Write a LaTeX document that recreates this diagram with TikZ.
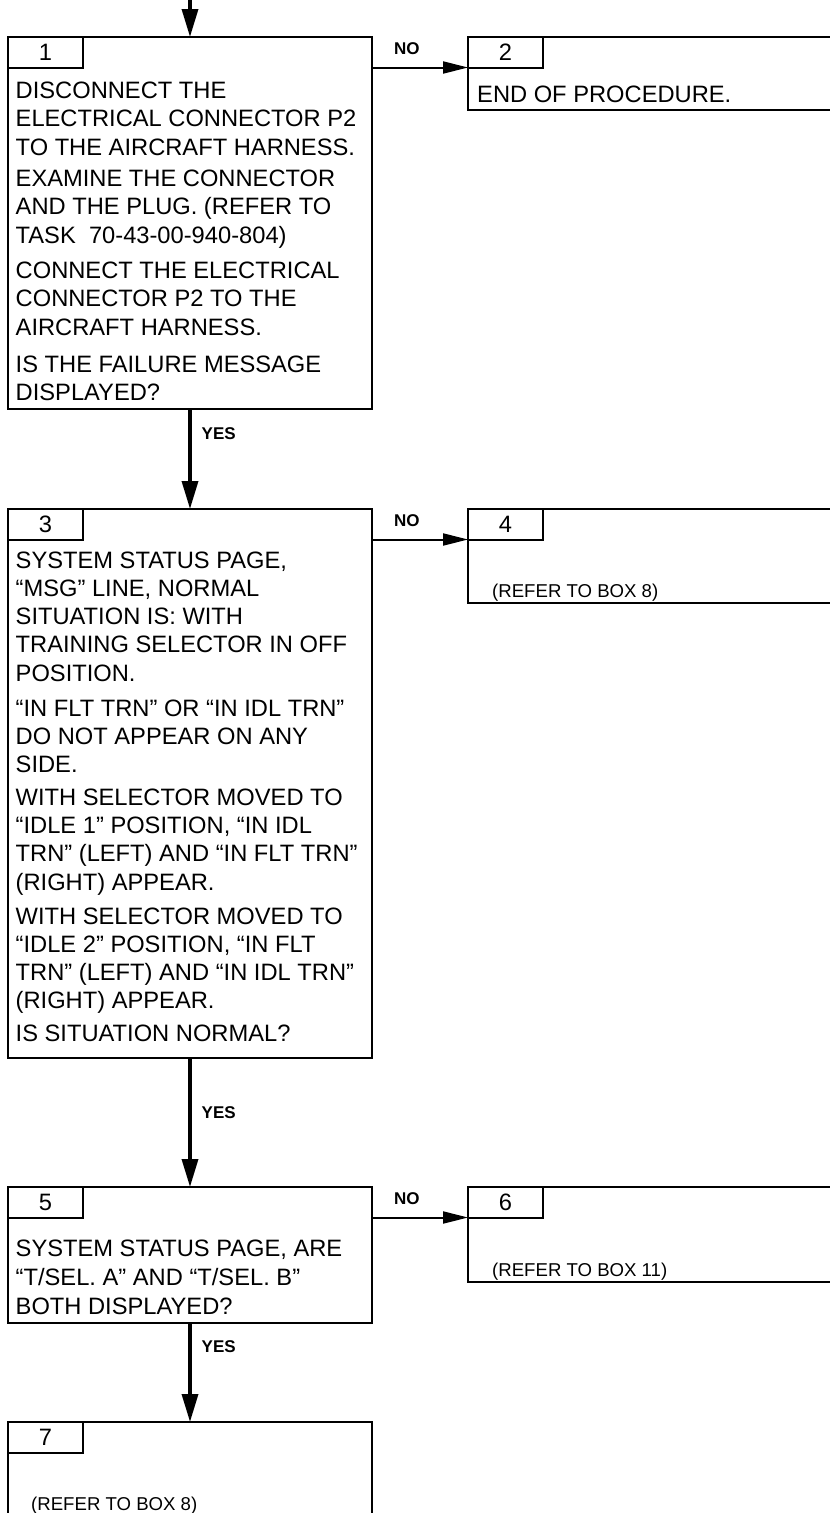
\documentclass[tikz,border=0pt]{standalone}
\usepackage{fontspec}
\setmainfont{Liberation Sans}
\usetikzlibrary{arrows.meta,positioning}

\begin{document}
\begin{tikzpicture}[x=1pt, y=-1pt]
  % Define styles
  \tikzstyle{stepbox} = [rectangle, draw, line width=2.6pt, outer sep=0pt, inner sep=0pt, minimum width=364pt, anchor=north west]
  \tikzstyle{sidebox} = [stepbox, minimum width=380pt]
  \tikzstyle{numtab} = [rectangle, draw, line width=2pt, outer sep=0pt, inner sep=0pt, minimum width=75pt, minimum height=30.5pt, anchor=north west, font=\fontsize{23.7}{28}\selectfont]
  \tikzstyle{steptext} = [inner sep=0pt, align=left, anchor=north west, font=\fontsize{23.7}{28.5}\selectfont]
  \tikzstyle{refertext} = [inner sep=0pt, anchor=base west, font=\fontsize{18.6}{22}\selectfont]
  \tikzstyle{yesline} = [draw, line width=3.4pt, -{Triangle[length=28pt, width=16pt]}]
  \tikzstyle{noline} = [draw, line width=2pt, -{Triangle[length=25pt, width=12pt]}]
  \tikzstyle{answer} = [inner sep=0pt, anchor=base west, font=\fontsize{17}{20}\selectfont\bfseries]

  \useasboundingbox (0,0) rectangle (830,1513);

  % Place nodes
  \node [stepbox, minimum height=372pt] (b1) at (8,37) {};
  \node [numtab] (t1) at (b1.north west) {1};
  \node [steptext, below right=14pt and 7.5pt of t1.south west] (s1) {DISCONNECT THE\\
    ELECTRICAL CONNECTOR P2\\
    TO THE AIRCRAFT HARNESS.\\[2.5pt]
    EXAMINE THE CONNECTOR\\
    AND THE PLUG. (REFER TO\\
    TASK\ \ 70-43-00-940-804)\\[6.5pt]
    CONNECT THE ELECTRICAL\\
    CONNECTOR P2 TO THE\\
    AIRCRAFT HARNESS.\\[8.5pt]
    IS THE FAILURE MESSAGE\\
    DISPLAYED?};

  \node [sidebox, minimum height=73pt, right=96pt of b1.north east, anchor=north west] (b2) {};
  \node [numtab] (t2) at (b2.north west) {2};
  \node [steptext, anchor=base west, above right=7.5pt and 9pt of b2.south west, anchor=base west] (s2) {END OF PROCEDURE.};

  \node [stepbox, minimum height=549pt, below=100pt of b1] (b3) {};
  \node [numtab] (t3) at (b3.north west) {3};
  \node [steptext, font=\fontsize{23.7}{28.2}\selectfont, below right=12pt and 7.5pt of t3.south west] (s3) {SYSTEM STATUS PAGE,\\
    “MSG” LINE, NORMAL\\
    SITUATION IS: WITH\\
    TRAINING SELECTOR IN OFF\\
    POSITION.\\[6.8pt]
    “IN FLT TRN” OR “IN IDL TRN”\\
    DO NOT APPEAR ON ANY\\
    SIDE.\\[4.8pt]
    WITH SELECTOR MOVED TO\\
    “IDLE 1” POSITION, “IN IDL\\
    TRN” (LEFT) AND “IN FLT TRN”\\
    (RIGHT) APPEAR.\\[5.8pt]
    WITH SELECTOR MOVED TO\\
    “IDLE 2” POSITION, “IN FLT\\
    TRN” (LEFT) AND “IN IDL TRN”\\
    (RIGHT) APPEAR.\\[4.8pt]
    IS SITUATION NORMAL?};

  \node [sidebox, minimum height=94pt, right=96pt of b3.north east, anchor=north west] (b4) {};
  \node [numtab] (t4) at (b4.north west) {4};
  \node [refertext, above right=5.3pt and 24pt of b4.south west, anchor=base west] (r4) {(REFER TO BOX 8)};

  \node [stepbox, minimum height=136pt, below=129pt of b3] (b5) {};
  \node [numtab] (t5) at (b5.north west) {5};
  \node [steptext, font=\fontsize{23.7}{29}\selectfont, below right=22pt and 7.5pt of t5.south west] (s5) {SYSTEM STATUS PAGE, ARE\\
    “T/SEL. A” AND “T/SEL. B”\\
    BOTH DISPLAYED?};

  \node [sidebox, minimum height=95pt, right=96pt of b5.north east, anchor=north west] (b6) {};
  \node [numtab] (t6) at (b6.north west) {6};
  \node [refertext, above right=5.3pt and 24pt of b6.south west, anchor=base west] (r6) {(REFER TO BOX 11)};

  \node [stepbox, minimum height=130pt, below=99pt of b5] (b7) {};
  \node [numtab] (t7) at (b7.north west) {7};
  \node [refertext, below right=57.6pt and 23pt of t7.south west, anchor=base west] (r7) {(REFER TO BOX 8)};

  \coordinate [above=40pt of b1.north] (entry);

  % Draw edges with labels
  \path [yesline] (entry) -- (b1.north);
  \path [yesline] (b1.south) -- node[answer, pos=0, xshift=10pt, yshift=-30pt] {YES} (b3.north);
  \path [yesline] (b3.south) -- node[answer, pos=0, xshift=10pt, yshift=-60pt] {YES} (b5.north);
  \path [yesline] (b5.south) -- node[answer, pos=0, xshift=10pt, yshift=-29pt] {YES} (b7.north);
  \path [noline] (b1.east |- t1.south) -- node[answer, pos=0, xshift=21pt, yshift=13pt] {NO} (b2.west |- t1.south);
  \path [noline] (b3.east |- t3.south) -- node[answer, pos=0, xshift=21pt, yshift=13pt] {NO} (b4.west |- t3.south);
  \path [noline] (b5.east |- t5.south) -- node[answer, pos=0, xshift=21pt, yshift=13pt] {NO} (b6.west |- t5.south);
\end{tikzpicture}
\end{document}
